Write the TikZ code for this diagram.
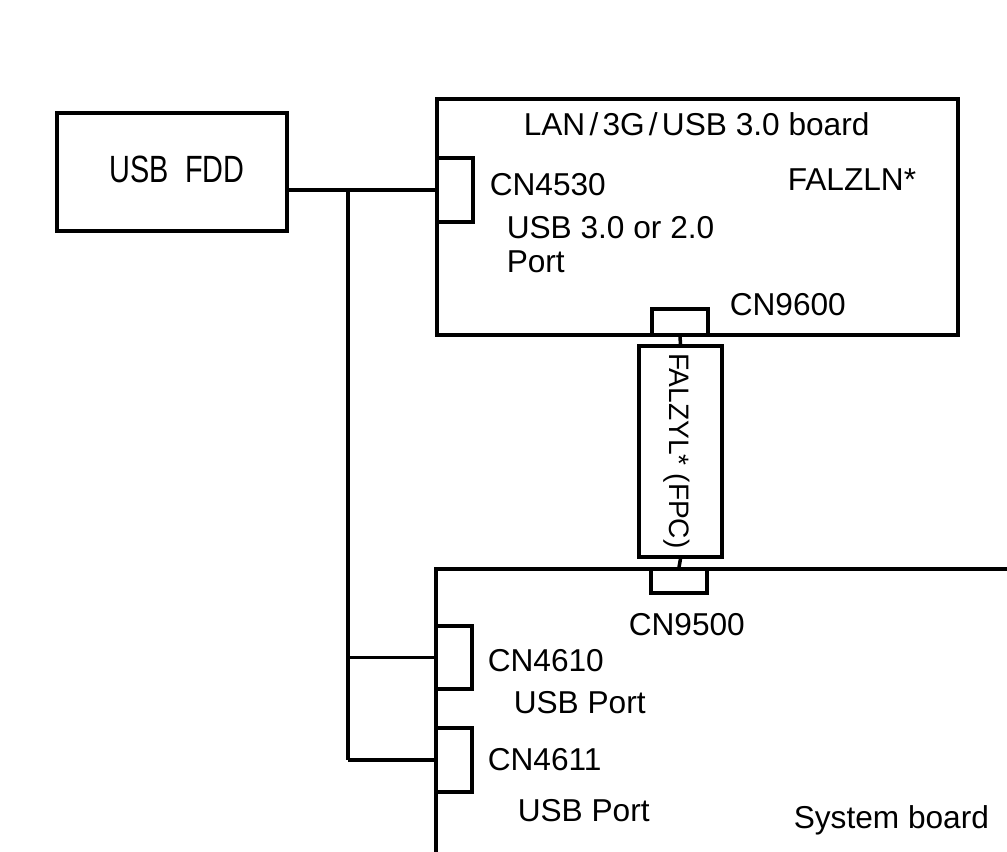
\documentclass[tikz,border=0pt]{standalone}
\usepackage{fontspec}
\setmainfont{Liberation Sans}
\usepackage{graphicx}
\usetikzlibrary{fit}

\begin{document}
\begin{tikzpicture}[x=0.025cm,y=-0.025cm,line width=2.5pt,
  box/.style={draw,inner sep=0pt},
  lbl/.style={anchor=base west,inner sep=0pt,font=\fontsize{22.5}{26}\selectfont}]
  \useasboundingbox (0,0) rectangle (1007,851);
  \clip (0,0) rectangle (1007,851);

  % USB FDD
  \node[box,fit={(57,113) (287,231)}] (fdd) {};
  \node[anchor=base west,inner sep=0pt,font=\fontsize{27}{30}\selectfont] (fddlbl) at (108,182) {\scalebox{0.76}[1]{USB\ \ FDD}};

  % LAN/3G/USB 3.0 board
  \node[box,fit={(437,99) (958,335)}] (lan) {};
  \node[box,fit={(437,158) (473,222)}] (cn4530) {};
  \node[box,fit={(652,309) (708,335)}] (cn9600) {};
  \node[lbl] (lantitle) at (522,135) {LAN\kern3pt/\kern3pt3G\kern3pt/\kern3pt USB 3.0 board};
  \node[lbl] (lanpn) at (786,190) {FALZLN*};
  \node[lbl] (cn4530lbl) at (488,195) {CN4530};
  \node[lbl] (usb3lbl) at (505,238) {USB 3.0 or 2.0};
  \node[lbl] (portlbl) at (505,272) {Port};
  \node[lbl] (cn9600lbl) at (728,315) {CN9600};

  % FPC
  \node[box,fit={(639,346) (722,557)}] (fpc) {};
  \node[rotate=-90,inner sep=0pt,font=\fontsize{20}{24}\selectfont] (fpclbl) at (677,451) {FALZYL* (FPC)};

  % System board
  \node[box,fit={(436,569) (1040,880)}] (sys) {};
  \node[box,fit={(651,569) (707,593)}] (cn9500) {};
  \node[box,fit={(436,626) (472,689)}] (cn4610) {};
  \node[box,fit={(436,728) (472,792)}] (cn4611) {};
  \node[lbl] (cn9500lbl) at (627,635) {CN9500};
  \node[lbl] (cn4610lbl) at (486,671) {CN4610};
  \node[lbl] (port1lbl) at (512,713) {USB Port};
  \node[lbl] (cn4611lbl) at (486,770) {CN4611};
  \node[lbl] (port2lbl) at (516,821) {USB Port};
  \node[lbl] (syslbl) at (792,828) {System board};

  % cables
  \coordinate (bus) at (348,189);
  \draw (cn4530.west -| fdd.east) -- (cn4530.west);
  \draw (bus |- cn4530.west) -- (bus |- cn4611.west);
  \draw (bus |- cn4610.west) -- (cn4610.west);
  \draw (bus |- cn4611.west) -- (cn4611.west);
  \draw (cn9600.south) -- (fpc.north);
  \draw (fpc.south) -- (cn9500.north);
\end{tikzpicture}
\end{document}
